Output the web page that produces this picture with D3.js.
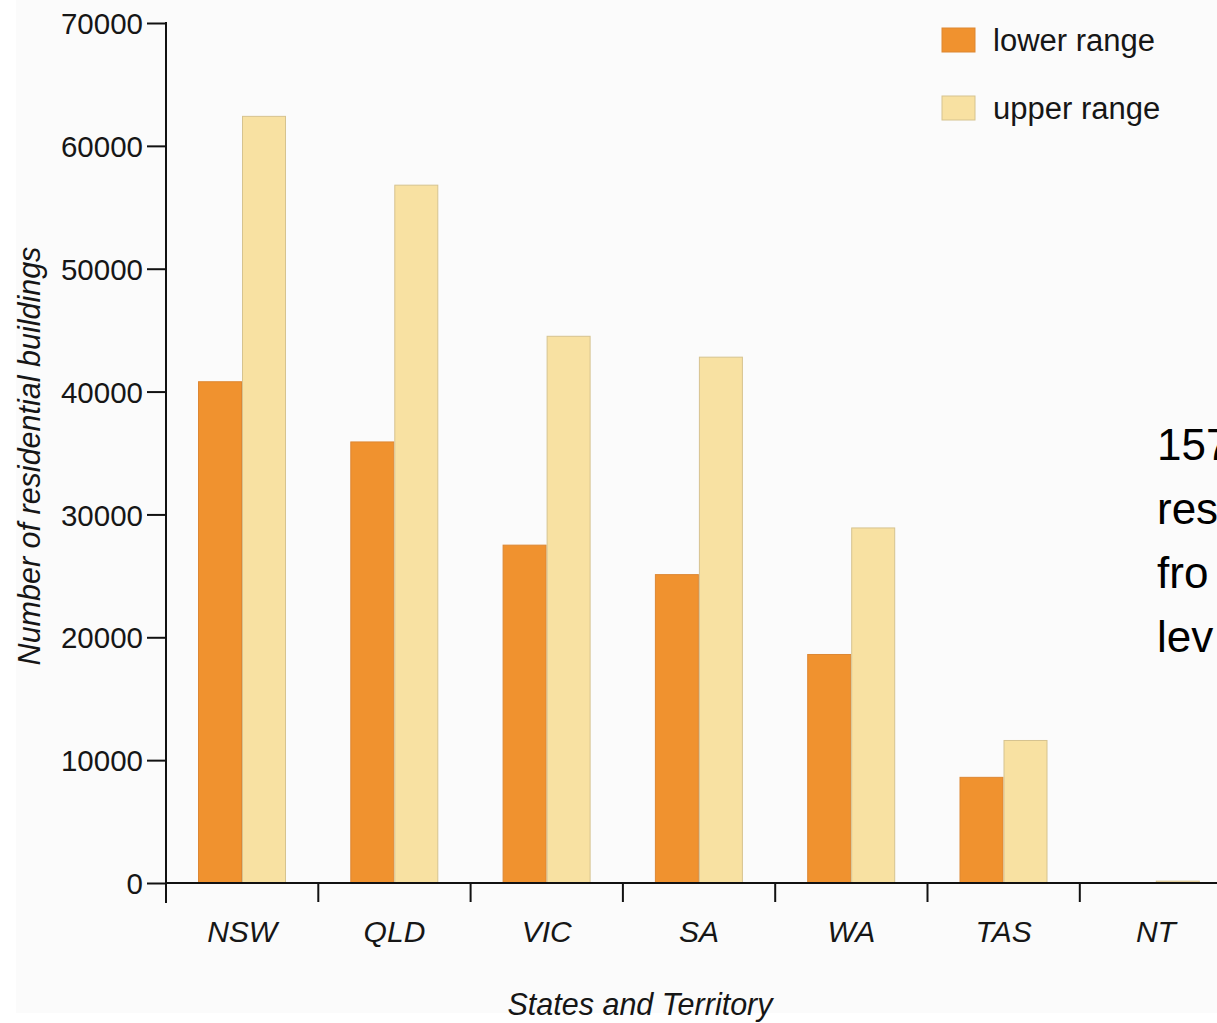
<!DOCTYPE html>
<html><head><meta charset="utf-8">
<script src="https://cdn.jsdelivr.net/npm/d3@7"></script>
<style>
html,body{margin:0;padding:0;background:#ffffff;overflow:hidden;}
svg{display:block;font-family:"Liberation Sans",Arial,sans-serif;}
</style></head>
<body>
<svg id="chart" width="1217" height="1023"></svg>
<script>
const categories = ["NSW","QLD","VIC","SA","WA","TAS","NT"];
const seriesNames = ["lower range","upper range"];
const lowerRange = [40800, 35900, 27500, 25100, 18600, 8600, 0];
const upperRange = [62400, 56800, 44500, 42800, 28900, 11600, 150];
const yTicks = [0,10000,20000,30000,40000,50000,60000,70000];
const sideText = ["157", "res", "fro", "lev"];

const svg = d3.select("#chart");
const W = 1217, H = 1023;
const left = 166, y0 = 883, yTop = 23, step = 152.3;
const ink = "#161616";

svg.append("rect").attr("x",16).attr("y",0).attr("width",W-16).attr("height",1013).attr("fill","#fbfbfb");

const x = d3.scaleBand().domain(categories).range([left, left + step*categories.length]).padding(0);
const xs = d3.scaleBand().domain(seriesNames).range([32, 120]).padding(0);
const y = d3.scaleLinear().domain([0,70000]).range([y0, yTop]);
const fills = {"lower range":"#F0922F","upper range":"#F8E1A2"};
const strokes = {"lower range":"#DD8733","upper range":"#D6C38F"};

const data = categories.map((c,i)=>({cat:c, vals:[{s:"lower range",v:lowerRange[i]},{s:"upper range",v:upperRange[i]}]}));

const g = svg.append("g");
const groups = g.selectAll("g.grp").data(data).join("g").attr("class","grp")
  .attr("transform", d=>`translate(${x(d.cat)},0)`);
groups.selectAll("rect").data(d=>d.vals.filter(o=>o.v>0)).join("rect")
  .attr("x", d=>xs(d.s)+0.5).attr("width", xs.bandwidth()-1)
  .attr("y", d=>y(d.v)).attr("height", d=>y0 - y(d.v))
  .attr("fill", d=>fills[d.s]).attr("stroke", d=>strokes[d.s]).attr("stroke-width",1);

// Y axis
const yAxis = d3.axisLeft(y).tickValues(yTicks).tickSize(19).tickPadding(4).tickFormat(d3.format("d"));
const ya = svg.append("g").attr("transform",`translate(${left},0)`).call(yAxis);
ya.select(".domain").remove();
ya.selectAll(".tick line").attr("stroke","#111").attr("stroke-width",2);
ya.selectAll(".tick text").attr("font-size",29.5).attr("fill",ink).attr("dy","0.36em");
svg.append("line").attr("x1",left).attr("x2",left).attr("y1",yTop-1).attr("y2",903).attr("stroke","#111").attr("stroke-width",2);

// X axis
svg.append("line").attr("x1",left).attr("x2",W).attr("y1",y0).attr("y2",y0).attr("stroke","#111").attr("stroke-width",2);
const xa = svg.append("g").attr("transform",`translate(0,${y0})`)
  .call(d3.axisBottom(x).tickSize(0).tickPadding(0));
xa.select(".domain").remove();
xa.selectAll(".tick text").attr("font-size",30).attr("font-style","italic").attr("fill",ink)
  .attr("y",59).attr("dy",0);
svg.selectAll("line.xt").data(categories).join("line").attr("class","xt")
  .attr("x1",d=>x(d)).attr("x2",d=>x(d)).attr("y1",y0).attr("y2",902)
  .attr("stroke","#111").attr("stroke-width",2);

// Axis titles
svg.append("text").attr("transform","translate(40,456) rotate(-90)").attr("text-anchor","middle")
  .attr("font-size",30.5).attr("font-style","italic").attr("fill",ink).text("Number of residential buildings");
svg.append("text").attr("x",640).attr("y",1015).attr("text-anchor","middle")
  .attr("font-size",30.5).attr("font-style","italic").attr("fill",ink).text("States and Territory");

// Legend
const leg = svg.append("g").selectAll("g").data(seriesNames).join("g")
  .attr("transform",(d,i)=>`translate(942,${28+i*68})`);
leg.append("rect").attr("width",33).attr("height",24).attr("fill",d=>fills[d]).attr("stroke",d=>strokes[d]);
leg.append("text").attr("x",51).attr("y",23).attr("font-size",31).attr("fill",ink).text(d=>d);

// Side text (cut off at page edge, as in the reference)
svg.append("g").selectAll("text").data(sideText).join("text")
  .attr("x",1157).attr("y",(d,i)=>460+i*64).attr("font-size",44).attr("fill","#000").text(d=>d);
</script>
</body></html>
